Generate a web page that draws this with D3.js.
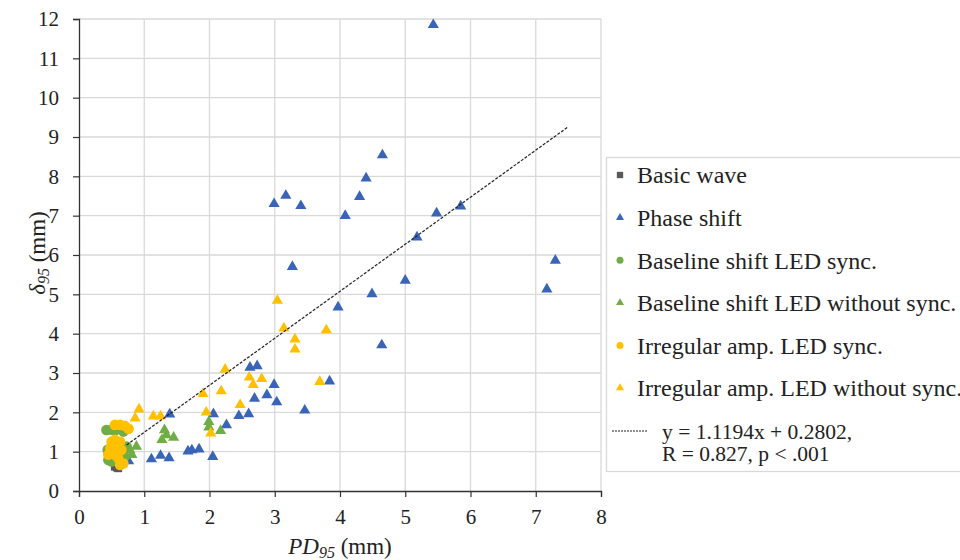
<!DOCTYPE html>
<html>
<head>
<meta charset="utf-8">
<script src="https://cdn.jsdelivr.net/npm/d3@7"></script>
<style>
    body { margin: 0; background: #fff; }
    svg text { font-family: "Liberation Serif", "Times New Roman", serif; fill: #222; }
</style>
</head>
<body>
<div id="chart"></div>
<script>
// Data: [PD95, delta95]
var basicWave = [[0.55, 0.62], [0.60, 0.58], [0.58, 0.60]];

var phaseShift = [
    [5.43, 11.85], [4.65, 8.54], [4.40, 7.95], [4.30, 7.48], [4.08, 7.00],
    [2.99, 7.30], [3.17, 7.51], [3.40, 7.25], [5.48, 7.06], [5.85, 7.24],
    [5.18, 6.45], [3.27, 5.70], [5.00, 5.35], [4.49, 5.01], [3.97, 4.67],
    [4.64, 3.71], [7.30, 5.86], [7.17, 5.13], [2.62, 3.14], [2.73, 3.18],
    [2.99, 2.70], [3.84, 2.79], [2.69, 2.35], [2.88, 2.44], [3.03, 2.26],
    [2.45, 1.91], [2.60, 1.96], [3.46, 2.05], [2.06, 1.96], [2.26, 1.68],
    [1.67, 1.01], [1.73, 1.04], [1.84, 1.06], [2.05, 0.87], [1.39, 1.95],
    [1.11, 0.81], [1.25, 0.90], [1.38, 0.84], [0.76, 0.76]
];

var baselineSync = [
    [0.42, 1.55], [0.50, 1.56], [0.56, 1.55], [0.68, 1.51], [0.73, 1.13],
    [0.70, 0.87], [0.45, 0.79], [0.50, 0.75], [0.44, 1.05], [0.46, 0.95]
];

var baselineNoSync = [
    [0.78, 1.04], [0.81, 0.92], [0.88, 1.13], [1.31, 1.55], [1.34, 1.42],
    [1.27, 1.30], [1.45, 1.36], [1.99, 1.76], [1.99, 1.62], [2.17, 1.53]
];

var irregularSync = [
    [0.55, 1.68], [0.63, 1.68], [0.70, 1.66], [0.76, 1.58], [0.50, 1.25],
    [0.55, 1.30], [0.63, 1.25], [0.48, 1.09], [0.53, 1.04], [0.65, 1.04],
    [0.45, 0.92], [0.55, 0.92], [0.60, 0.83], [0.63, 0.66], [0.68, 0.70]
];

var irregularNoSync = [
    [0.92, 2.08], [0.86, 1.85], [1.14, 1.90], [1.25, 1.90], [1.90, 2.47],
    [2.18, 2.54], [2.24, 3.09], [1.95, 2.00], [2.02, 1.47], [2.47, 2.19],
    [2.61, 2.89], [2.80, 2.85], [2.67, 2.70], [3.69, 2.78], [3.04, 4.84],
    [3.14, 4.14], [3.79, 4.09], [3.31, 3.86], [3.31, 3.60]
];

// trend line ends as drawn in the picture
var trendLine = [[0.73, 1.17], [7.49, 9.25]];

var seriesNames = [
    "Basic wave", "Phase shift", "Baseline shift LED sync.",
    "Baseline shift LED without sync.", "Irregular amp. LED sync.",
    "Irregular amp. LED without sync."
];
var trendLabels = ["y = 1.1194x + 0.2802,", "R = 0.827, p < .001"];

var xTicks = [0, 1, 2, 3, 4, 5, 6, 7, 8];
var yTicks = [0, 1, 2, 3, 4, 5, 6, 7, 8, 9, 10, 11, 12];

function init() {
    var w = 960;
    var h = 560;
    var left = 79, right = 601, top = 19, bottom = 491;
    var serif = "'Liberation Serif', 'Times New Roman', serif";

    var svg = d3.select("#chart")
        .append("svg")
        .attr("width", w)
        .attr("height", h)
        .style("font-family", serif);

    var xScale = d3.scaleLinear().domain([0, 8]).range([left, right]);
    var yScale = d3.scaleLinear().domain([0, 12]).range([bottom, top]);

    // gridlines
    svg.append("g")
        .selectAll("line")
        .data(xTicks.slice(1))
        .enter()
        .append("line")
        .attr("x1", function(d) { return xScale(d); })
        .attr("x2", function(d) { return xScale(d); })
        .attr("y1", top)
        .attr("y2", bottom)
        .attr("stroke", "#d9d9d9")
        .attr("stroke-width", 1.3);

    svg.append("g")
        .selectAll("line")
        .data(yTicks.slice(1))
        .enter()
        .append("line")
        .attr("x1", left)
        .attr("x2", right)
        .attr("y1", function(d) { return yScale(d); })
        .attr("y2", function(d) { return yScale(d); })
        .attr("stroke", "#d9d9d9")
        .attr("stroke-width", 1.3);

    var xAxis = d3.axisBottom(xScale)
        .tickValues(xTicks)
        .tickSize(6)
        .tickPadding(12);

    var yAxis = d3.axisLeft(yScale)
        .tickValues(yTicks)
        .tickSize(6)
        .tickPadding(14);

    var gx = svg.append("g")
        .attr("transform", "translate(0," + bottom + ")")
        .call(xAxis);

    var gy = svg.append("g")
        .attr("transform", "translate(" + left + ",0)")
        .call(yAxis);

    [gx, gy].forEach(function(g) {
        g.attr("font-family", null);
        g.select(".domain").attr("stroke", "#333").attr("stroke-width", 1.3);
        g.selectAll(".tick line").attr("stroke", "#333").attr("stroke-width", 1.2);
        g.selectAll(".tick text")
            .attr("font-size", 21)
            .style("font-family", serif)
            .attr("fill", "#222");
    });

    // axis titles
    var xt = svg.append("text")
        .attr("x", 340)
        .attr("y", 554)
        .attr("text-anchor", "middle")
        .attr("font-size", 23);
    xt.append("tspan").attr("font-style", "italic").text("PD");
    xt.append("tspan").attr("font-style", "italic").attr("font-size", 16)
        .attr("dy", 4).text("95");
    xt.append("tspan").attr("dy", -4).text(" (mm)");

    var yt = svg.append("text")
        .attr("transform", "translate(45,253) rotate(-90)")
        .attr("text-anchor", "middle")
        .attr("font-size", 23);
    yt.append("tspan").attr("font-style", "italic").text("δ");
    yt.append("tspan").attr("font-style", "italic").attr("font-size", 16)
        .attr("dy", 4).text("95");
    yt.append("tspan").attr("dy", -4).text(" (mm)");

    var plot = svg.append("g");

    var tri = d3.symbol().type(d3.symbolTriangle).size(54);
    var sq = d3.symbol().type(d3.symbolSquare).size(64);

    function drawSymbols(data, path, color) {
        plot.append("g")
            .selectAll("path")
            .data(data)
            .enter()
            .append("path")
            .attr("d", path)
            .attr("transform", function(d) {
                return "translate(" + xScale(d[0]) + "," + yScale(d[1]) + ")";
            })
            .attr("fill", color);
    }

    function drawCircles(data, color) {
        plot.append("g")
            .selectAll("circle")
            .data(data)
            .enter()
            .append("circle")
            .attr("cx", function(d) { return xScale(d[0]); })
            .attr("cy", function(d) { return yScale(d[1]); })
            .attr("r", 5.3)
            .attr("fill", color);
    }

    var gray = "#595959", blue = "#3a64b8", green = "#70ad47", yellow = "#ffc000";

    drawSymbols(basicWave, sq, gray);
    drawSymbols(phaseShift, tri, blue);
    drawCircles(baselineSync, green);
    drawSymbols(baselineNoSync, tri, green);
    drawCircles(irregularSync, yellow);
    drawSymbols(irregularNoSync, tri, yellow);

    // trend line
    var line = d3.line()
        .x(function(d) { return xScale(d[0]); })
        .y(function(d) { return yScale(d[1]); });

    plot.append("path")
        .datum(trendLine)
        .attr("d", line)
        .attr("fill", "none")
        .attr("stroke", "#222")
        .attr("stroke-width", 1.2)
        .attr("stroke-dasharray", "3,1.5");

    // legend
    var legend = svg.append("g");
    legend.append("rect")
        .attr("x", 606.5)
        .attr("y", 157.5)
        .attr("width", 400)
        .attr("height", 314)
        .attr("fill", "#fff")
        .attr("stroke", "#d9d9d9")
        .attr("stroke-width", 1.3);

    var legendColors = [gray, blue, green, green, yellow, yellow];
    var legendShapes = ["square", "triangle", "circle", "triangle", "circle", "triangle"];
    var rowY = d3.scaleLinear().domain([0, 5]).range([175, 388]);

    var items = legend.selectAll("g.item")
        .data(seriesNames)
        .enter()
        .append("g")
        .attr("class", "item")
        .attr("transform", function(d, i) {
            return "translate(620," + rowY(i) + ")";
        });

    items.each(function(d, i) {
        var g = d3.select(this);
        var shape = legendShapes[i];
        if (shape === "circle") {
            g.append("circle").attr("r", 3.5).attr("fill", legendColors[i]);
        } else {
            var s = shape === "square"
                ? d3.symbol().type(d3.symbolSquare).size(40)
                : d3.symbol().type(d3.symbolTriangle).size(28);
            g.append("path").attr("d", s).attr("fill", legendColors[i]);
        }
        g.append("text")
            .attr("x", 17)
            .attr("dy", "0.35em")
            .attr("font-size", 24)
            .text(d);
    });

    legend.append("line")
        .attr("x1", 612)
        .attr("x2", 648)
        .attr("y1", 431)
        .attr("y2", 431)
        .attr("stroke", "#222")
        .attr("stroke-width", 1)
        .attr("stroke-dasharray", "2,1");

    legend.selectAll("text.trend")
        .data(trendLabels)
        .enter()
        .append("text")
        .attr("class", "trend")
        .attr("x", 662)
        .attr("y", function(d, i) { return 431 + i * 22; })
        .attr("dy", "0.35em")
        .attr("font-size", 21.5)
        .text(function(d) { return d; });
}

window.onload = init;
</script>
</body>
</html>
